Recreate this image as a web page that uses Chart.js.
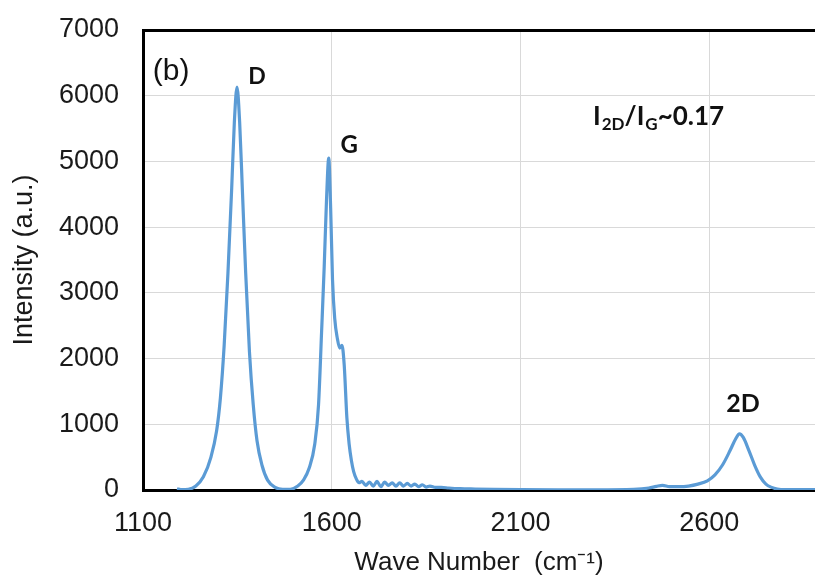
<!DOCTYPE html>
<html>
<head>
<meta charset="utf-8">
<script src="https://cdn.jsdelivr.net/npm/chart.js@4.4.1/dist/chart.umd.min.js"></script>
<style>
  html, body { margin: 0; padding: 0; background: #fff; }
  #wrap { width: 815px; height: 579px; }
</style>
</head>
<body>
<div id="wrap"><canvas id="raman"></canvas></div>
<script>
// Raman spectrum (wave number, intensity)
const waveNumbers = [1190, 1200, 1220, 1240, 1260, 1280, 1295, 1305, 1315, 1325, 1335, 1342, 1349, 1356, 1363, 1372, 1382, 1392, 1402, 1415, 1430, 1450, 1470, 1490, 1510, 1525, 1540, 1555, 1565, 1573, 1580, 1586, 1592, 1597, 1602, 1608, 1615, 1621, 1627, 1633, 1640, 1646, 1652, 1658, 1665, 1672, 1680, 1690, 1700, 1710, 1720, 1730, 1740, 1750, 1760, 1770, 1780, 1790, 1800, 1810, 1820, 1830, 1840, 1850, 1860, 1875, 1890, 1910, 1940, 1980, 2030, 2100, 2200, 2300, 2400, 2440, 2460, 2476, 2495, 2520, 2545, 2570, 2595, 2615, 2635, 2655, 2670, 2680, 2690, 2705, 2720, 2735, 2750, 2765, 2780, 2800, 2830, 2880];
const intensity = [20, 5, 10, 60, 200, 500, 900, 1400, 2200, 3300, 4600, 5600, 6130, 5600, 4600, 3300, 2100, 1300, 750, 380, 150, 40, 10, 10, 60, 150, 330, 700, 1300, 2400, 3400, 4400, 5050, 4300, 3200, 2600, 2300, 2160, 2200, 1900, 1100, 700, 450, 280, 170, 110, 130, 70, 120, 60, 130, 50, 120, 70, 110, 60, 110, 60, 100, 60, 90, 50, 80, 45, 60, 40, 40, 30, 20, 15, 10, 5, 3, 3, 10, 30, 55, 70, 50, 50, 60, 90, 140, 230, 380, 600, 780, 855, 800, 600, 380, 200, 90, 40, 15, 5, 5, 5];

const xTicks = [1100, 1600, 2100, 2600];
const yTicks = [0, 1000, 2000, 3000, 4000, 5000, 6000, 7000];

// peak labels: [text, wave number, intensity, font size]
const peakLabels = [
    ['D', 1402, 6290, 23],
    ['G', 1646, 5240, 24],
    ['2D', 2689, 1310, 25]
];

const blue = '#5b9bd5';
const gridGray = '#d9d9d9';
const axisFont = '"Liberation Sans", Arial, sans-serif';

// draws the panel label, peak names and the ratio text
const annotations = {
    id: 'annotations',
    afterDatasetsDraw(chart) {
        const { ctx, scales: { x, y } } = chart;
        ctx.save();
        ctx.fillStyle = '#111';
        ctx.textBaseline = 'middle';

        ctx.font = '30px ' + axisFont;
        ctx.textAlign = 'left';
        ctx.fillText('(b)', x.getPixelForValue(1126), y.getPixelForValue(6360));

        ctx.textAlign = 'center';
        peakLabels.forEach(([t, wx, wy, size]) => {
            ctx.font = `bold ${size}px Lato, "Open Sans", sans-serif`;
            ctx.fillText(t, x.getPixelForValue(wx), y.getPixelForValue(wy));
        });

        // I2D/IG~0.17 with subscripts
        ctx.textAlign = 'left';
        let px = x.getPixelForValue(2292);
        const py = y.getPixelForValue(5680);
        const parts = [['I', false], ['2D', true], ['/I', false], ['G', true], ['~0.17', false]];
        parts.forEach(([t, sub]) => {
            ctx.font = sub ? 'bold 17px Lato, "Open Sans", sans-serif' : 'bold 26px Lato, "Open Sans", sans-serif';
            ctx.fillText(t, px, sub ? py + 8 : py);
            px += ctx.measureText(t).width + (sub ? 0 : 1);
        });
        ctx.restore();
    }
};

new Chart(document.getElementById('raman'), {
    type: 'line',
    data: {
        datasets: [{
            data: waveNumbers.map((w, i) => ({ x: w, y: intensity[i] })),
            borderColor: blue,
            borderWidth: 3.2,
            pointRadius: 0,
            cubicInterpolationMode: 'monotone',
            fill: false
        }]
    },
    options: {
        responsive: true,
        maintainAspectRatio: false,
        animation: false,
        layout: { padding: { top: 30, right: 0, bottom: 0, left: 0 } },
        plugins: { legend: { display: false }, tooltip: { enabled: false } },
        scales: {
            x: {
                type: 'linear',
                min: 1100,
                max: 2880,
                afterBuildTicks: (scale) => { scale.ticks = xTicks.map(v => ({ value: v })); },
                afterFit: (scale) => { scale.height = 89; scale.paddingLeft = 0; scale.paddingRight = 0; },
                grid: { color: gridGray, lineWidth: 1, drawTicks: false },
                border: { color: '#000', width: 3 },
                ticks: {
                    color: '#1a1a1a',
                    padding: 17,
                    callback: (v) => String(v),
                    font: { family: axisFont, size: 27 }
                },
                title: {
                    display: true,
                    text: 'Wave Number  (cm\u207B\u00B9)',
                    color: '#1a1a1a',
                    padding: { top: 0, bottom: 1 },
                    font: { family: axisFont, size: 26 }
                }
            },
            y: {
                min: 0,
                max: 7000,
                afterBuildTicks: (scale) => { scale.ticks = yTicks.map(v => ({ value: v })); },
                afterFit: (scale) => { scale.width = 143; scale.paddingTop = 0; scale.paddingBottom = 0; },
                grid: {
                    color: (c) => c.tick && c.tick.value === 7000 ? '#000' : gridGray,
                    lineWidth: (c) => c.tick && c.tick.value === 7000 ? 3 : 1,
                    drawTicks: false
                },
                border: { color: '#000', width: 3 },
                ticks: {
                    color: '#1a1a1a',
                    padding: 24,
                    callback: (v) => String(v),
                    font: { family: axisFont, size: 27 }
                },
                title: {
                    display: true,
                    text: 'Intensity (a.u.)',
                    color: '#1a1a1a',
                    padding: { top: 8, bottom: 0 },
                    font: { family: axisFont, size: 27 }
                }
            }
        }
    },
    plugins: [annotations]
});
</script>
</body>
</html>
